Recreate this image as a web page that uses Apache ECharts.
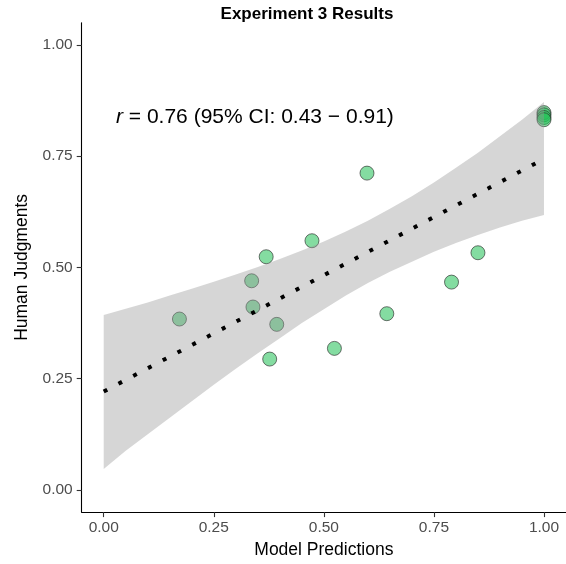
<!DOCTYPE html>
<html>
<head>
<meta charset="utf-8">
<script src="https://cdn.jsdelivr.net/npm/echarts@6/dist/echarts.min.js"></script>
<style>
  html, body { margin: 0; padding: 0; background: #fff; }
  #chart { width: 566px; height: 564px; }
</style>
</head>
<body>
<div id="chart"></div>
<script>
// scatter points (model prediction, human judgment)
var modelX = [0.172, 0.336, 0.339, 0.369, 0.393, 0.377, 0.473, 0.524, 0.598, 0.643, 0.790, 0.850, 1.0, 1.0, 1.0, 1.0];
var humanY = [0.384, 0.470, 0.411, 0.524, 0.372, 0.294, 0.560, 0.318, 0.712, 0.396, 0.467, 0.533, 0.848, 0.843, 0.837, 0.832];

// fitted line ends
var fitX = [0, 1];
var fitY = [0.221, 0.744];

// 95% confidence band
var bandX = [0, 0.05, 0.1, 0.15, 0.2, 0.25, 0.3, 0.35, 0.4, 0.45, 0.5, 0.55, 0.6, 0.65, 0.7, 0.75, 0.8, 0.85, 0.9, 0.95, 1.0];
var bandUpper = [0.393, 0.407, 0.421, 0.437, 0.452, 0.468, 0.484, 0.501, 0.519, 0.538, 0.558, 0.581, 0.605, 0.632, 0.660, 0.691, 0.724, 0.758, 0.795, 0.832, 0.872];
var bandLower = [0.047, 0.088, 0.125, 0.162, 0.199, 0.236, 0.272, 0.307, 0.341, 0.375, 0.406, 0.437, 0.465, 0.490, 0.513, 0.535, 0.555, 0.573, 0.590, 0.605, 0.618];

var tickValues = [0, 0.25, 0.5, 0.75, 1];

var FONT = "'Liberation Sans', Arial, Helvetica, sans-serif";

var points = modelX.map(function (x, i) { return [x, humanY[i]]; });
var fitLine = fitX.map(function (x, i) { return [x, fitY[i]]; });

var myChart = echarts.init(document.getElementById("chart"));

function axisCommon(name) {
  return {
    type: "value",
    min: -0.05,
    max: 1.05,
    name: name,
    nameLocation: "middle",
    nameTextStyle: { color: "#000", fontSize: 17.5, fontFamily: FONT },
    axisLine: { show: true, onZero: false, lineStyle: { color: "#000", width: 1.1 } },
    axisTick: { show: true, length: 5, customValues: tickValues, lineStyle: { color: "#333", width: 1.1 } },
    axisLabel: {
      customValues: tickValues,
      color: "#4d4d4d",
      fontSize: 15.5,
      fontFamily: FONT,
      formatter: function (v) { return v.toFixed(2); }
    },
    splitLine: { show: false }
  };
}

var xAxis = axisCommon("Model Predictions");
xAxis.nameGap = 28;
xAxis.axisLabel.margin = 8;

var yAxis = axisCommon("Human Judgments");
yAxis.nameGap = 51;
yAxis.axisLabel.margin = 9;

myChart.setOption({
  animation: false,
  title: {
    text: "Experiment 3 Results",
    left: 302,
    top: 1,
    textAlign: "center",
    textStyle: { color: "#000", fontSize: 17, fontWeight: "bold", fontFamily: FONT }
  },
  grid: { left: 81.7, right: -4.6, top: 22.75, bottom: 51.7, containLabel: false },
  xAxis: xAxis,
  yAxis: yAxis,
  graphic: [
    {
      type: "text",
      x: 116,
      y: 117,
      style: {
        text: "{i|r} = 0.76 (95% CI: 0.43 \u2212 0.91)",
        fill: "#000",
        fontSize: 21,
        fontFamily: FONT,
        verticalAlign: "middle",
        rich: { i: { fontStyle: "italic", fontSize: 21, fontFamily: FONT, fill: "#000" } }
      }
    }
  ],
  series: [
    {
      type: "scatter",
      data: points,
      symbol: "circle",
      symbolSize: 14,
      z: 2,
      itemStyle: { color: "rgba(36,192,88,0.7)", borderColor: "rgba(40,40,40,0.8)", borderWidth: 1 }
    },
    {
      type: "custom",
      z: 3,
      silent: true,
      data: [[0, 0]],
      renderItem: function (params, api) {
        var pts = [];
        for (var i = 0; i < bandX.length; i++) pts.push(api.coord([bandX[i], bandUpper[i]]));
        for (var j = bandX.length - 1; j >= 0; j--) pts.push(api.coord([bandX[j], bandLower[j]]));
        return { type: "polygon", shape: { points: pts }, style: { fill: "rgba(153,153,153,0.4)" } };
      }
    },
    {
      type: "line",
      data: fitLine,
      z: 4,
      showSymbol: false,
      lineStyle: { color: "#000", width: 4, type: [4, 12.7], cap: "butt" }
    }
  ]
});
</script>
</body>
</html>
